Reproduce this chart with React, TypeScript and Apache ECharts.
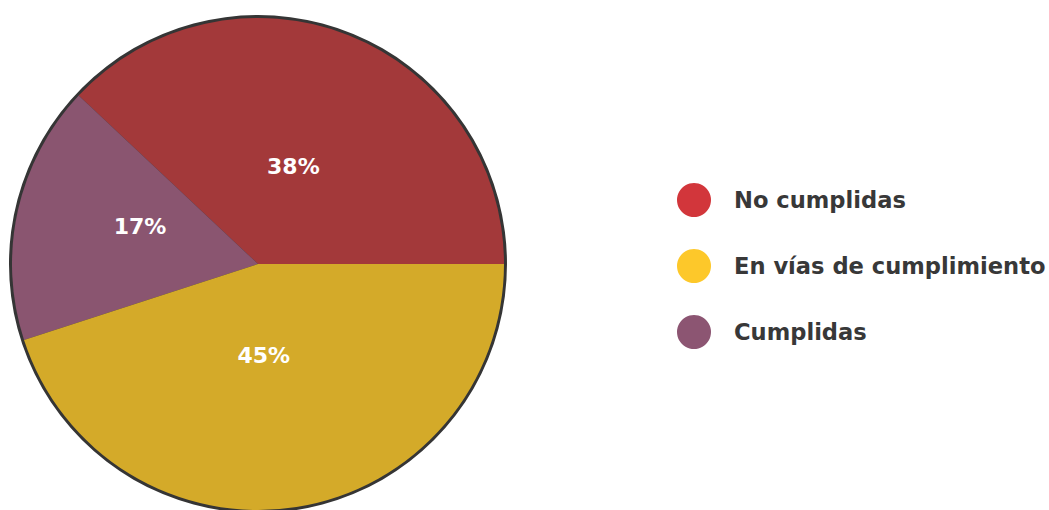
import React, { useEffect, useRef } from "react";
import * as echarts from "echarts";

const categories = ["No cumplidas", "Cumplidas", "En vías de cumplimiento"];
const values = [38, 17, 45];
const legendOrder = ["No cumplidas", "En vías de cumplimiento", "Cumplidas"];

const sliceColors: Record<string, string> = {
  "No cumplidas": "#A3393A",
  "Cumplidas": "#8A5570",
  "En vías de cumplimiento": "#D4AA29",
};
const legendColors: Record<string, string> = {
  "No cumplidas": "#D2363B",
  "En vías de cumplimiento": "#FDC82A",
  "Cumplidas": "#8C5572",
};
const labelOffsets: Record<string, number[]> = {
  "No cumplidas": [-11, 20],
  "Cumplidas": [5, -10],
  "En vías de cumplimiento": [-14, -33],
};

export default function App() {
  const ref = useRef<HTMLDivElement>(null);
  useEffect(() => {
    if (!ref.current) return;
    const chart = echarts.init(ref.current, undefined, { renderer: "svg" });
    const font = "'DejaVu Sans', sans-serif";
    chart.setOption({
      animation: false,
      backgroundColor: "#ffffff",
      legend: {
        orient: "vertical",
        left: 677,
        top: 183,
        padding: 0,
        itemWidth: 34,
        itemHeight: 34,
        itemGap: 32,
        icon: "circle",
        selectedMode: false,
        data: legendOrder.map((n) => ({ name: n, itemStyle: { color: legendColors[n] } })),
        textStyle: {
          fontFamily: font,
          fontWeight: "bold",
          fontSize: 22.6,
          color: "#383838",
          padding: [0, 0, 0, 18],
        },
      },
      series: [
        {
          type: "pie",
          silent: true,
          center: [258, 264],
          radius: [0, 249],
          z: 1,
          label: { show: false },
          labelLine: { show: false },
          data: [{ name: "__border", value: 1, itemStyle: { color: "#353535" } }],
        },
        {
          type: "pie",
          silent: true,
          center: [258, 264],
          radius: [0, 246],
          startAngle: 0,
          clockwise: false,
          z: 2,
          label: {
            show: true,
            position: "inside",
            formatter: "{c}%",
            fontFamily: font,
            fontWeight: "bold",
            fontSize: 22,
            color: "#ffffff",
          },
          labelLine: { show: false },
          data: categories.map((n, i) => ({
            name: n,
            value: values[i],
            itemStyle: { color: sliceColors[n] },
            label: { offset: labelOffsets[n] },
          })),
        },
      ],
    });
    return () => chart.dispose();
  }, []);
  return (
    <div
      ref={ref}
      style={{ position: "fixed", left: 0, top: 0, width: 1049, height: 510 }}
    />
  );
}
